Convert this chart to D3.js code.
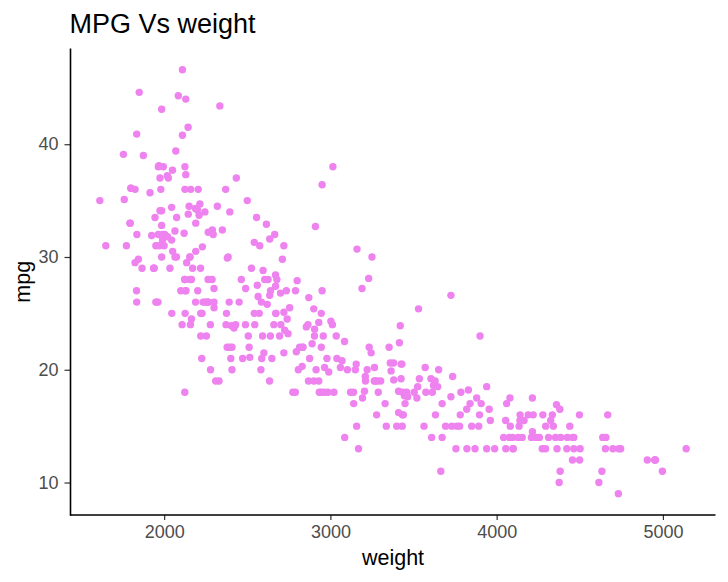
<!DOCTYPE html>
<html>
<head>
<meta charset="utf-8">
<script src="https://cdn.jsdelivr.net/npm/d3@7"></script>
<style>
  html, body { margin: 0; padding: 0; background: #ffffff; }
  svg { display: block; }
  text { font-family: "Liberation Sans", Arial, "DejaVu Sans", sans-serif; }
</style>
</head>
<body>
<div id="chart"></div>
<script>
// Auto MPG data: weight (lbs) and mpg, in dataset order
const weight = [
  3504,3693,3436,3433,3449,4341,4354,4312,4425,3850,3563,3609,3761,3086,2372,2833,2774,2587,2130,1835,2672,2430,2375,2234,2648,4615,4376,4382,4732,
  2130,2264,2228,2046,2634,3439,3329,3302,3288,4209,4464,4154,4096,4955,4746,5140,2962,2408,3282,3139,2220,2123,2074,2065,1773,1613,1834,1955,
  2278,2126,2254,2408,2226,4274,4385,4135,4129,3672,4633,4502,4456,4422,2330,3892,4098,4294,4077,2933,2511,2979,2189,2395,2288,2506,2164,2100,
  4100,3672,3988,4042,3777,4952,4464,4363,4237,4735,4951,3821,3121,3278,2945,3021,2904,1950,4997,4906,4654,4499,2789,2279,2401,2379,2124,2310,2472,2265,4082,4278,1867,2158,2582,2868,3399,2660,2807,3664,
  3102,2875,2901,3336,1950,2451,1836,2542,3781,3632,3613,4141,4699,4457,4638,4257,2219,1963,2300,1649,2003,2125,2108,2246,2489,2391,2000,
  3264,3459,3432,3158,4668,4440,4498,4657,3907,3897,3730,3785,3039,3221,3169,2171,2639,2914,2592,2702,2223,2545,2984,1937,3211,2694,2957,2945,2671,1795,
  2464,2220,2572,2255,2202,4215,4190,3962,4215,3233,3353,3012,3085,2035,2164,1937,1795,3651,3574,3645,3193,1825,1990,2155,2565,3150,3940,3270,2930,3820,4380,4055,3870,3755,
  2045,2155,1825,2300,1945,3880,4060,4140,4295,3520,3425,3630,3525,4220,4165,4325,4335,1940,2740,2265,2755,2051,2075,1985,2190,2815,2600,2720,
  1985,1800,1985,2070,1800,3365,3735,3570,3535,3155,2965,2720,3430,3210,3380,3070,3620,3410,3425,3445,3205,4080,2155,2560,2300,2230,2515,2745,2855,2405,2830,3140,2795,3410,1990,2135,
  3245,2990,2890,3265,3360,3840,3725,3955,3830,4360,4054,3605,3940,1925,1975,1915,2670,3530,3900,3190,3420,2200,2150,2020,2130,2670,2595,2700,2556,
  2144,1968,2120,2019,2678,2870,3003,3381,2188,2711,2542,2434,2265,2110,2800,2110,2085,2335,2950,3250,1850,1835,2145,1845,2910,2420,2500,2905,2290,
  2490,2635,2620,2725,2385,1755,1875,1760,2065,1975,2050,1985,2215,2045,2380,2190,2320,2210,2350,2615,2635,3230,3160,2900,2930,3415,3725,3060,3465,
  2605,2640,2395,2575,2525,2735,2865,3035,1980,2025,1970,2125,2125,2160,2205,2245,1965,1965,1995,2945,3015,2585,2835,2665,2370,2950,2790,2130,2295,2625,2720
];
const mpg = [
  18,15,18,16,17,15,14,14,14,15,15,14,15,14,24,22,18,21,27,26,25,24,25,26,21,10,10,11,9,
  27,28,25,25,19,16,17,19,18,14,14,14,14,12,13,13,18,22,19,18,23,28,30,30,31,35,27,26,
  24,25,23,20,21,13,14,15,14,17,11,13,12,13,19,15,13,13,14,18,22,21,26,22,28,23,28,27,
  13,14,13,14,15,12,13,13,14,13,12,13,18,16,18,18,23,26,11,12,13,12,18,20,21,22,18,19,21,26,15,16,29,24,20,19,15,24,20,11,
  20,21,19,15,31,26,32,25,16,16,18,16,13,14,14,14,29,26,26,31,32,28,24,26,24,26,31,
  19,18,15,15,16,15,16,14,17,16,15,18,21,20,13,29,23,20,23,24,25,24,18,29,19,23,23,22,25,33,
  28,25,25,26,27,17.5,16,15.5,14.5,22,22,24,22.5,29,24.5,29,33,20,18,18.5,17.5,29.5,32,28,26.5,20,13,19,19,16.5,16.5,13,13,13,
  31.5,30,36,25.5,33.5,17.5,17,15.5,15,17.5,20.5,19,18.5,16,15.5,15.5,16,29,24.5,26,25.5,30.5,33.5,30,30.5,22,21.5,21.5,
  43.1,36.1,32.8,39.4,36.1,19.9,19.4,20.2,19.2,20.5,20.2,25.1,20.5,19.4,20.6,20.8,18.6,18.1,19.2,17.7,18.1,17.5,30,27.5,27.2,30.9,21.1,23.2,23.8,23.9,20.3,17,21.6,16.2,31.5,29.5,
  21.5,19.8,22.3,20.2,20.6,17,17.6,16.5,18.2,16.9,15.5,19.2,18.5,31.9,34.1,35.7,27.4,25.4,23,27.2,23.9,34.2,34.5,31.8,37.3,28.4,28.8,26.8,33.5,
  41.5,38.1,32.1,37.2,28,26.4,24.3,19.1,34.3,29.8,31.3,37,32.2,46.6,27.9,40.8,44.3,43.4,36.4,30,44.6,40.9,33.8,29.8,32.7,23.7,35,23.6,32.4,
  27.2,26.6,25.8,23.5,30,39.1,39,35.1,32.3,37,37.7,34.1,34.7,34.4,29.9,33,34.5,33.7,32.4,32.9,31.6,28.1,30.7,25.4,24.2,22.4,26.6,20.2,17.6,
  28,27,34,31,29,27,24,23,36,37,31,38,36,36,36,34,38,32,38,25,38,26,22,32,36,27,27,44,32,28,31
];
const xTicks = [2000, 3000, 4000, 5000];
const yTicks = [10, 20, 30, 40];
const titleText = "MPG Vs weight";
const xLabel = "weight";
const yLabel = "mpg";

const W = 728, H = 582;
const panel = { left: 70.5, right: 715.5, top: 48.6, bottom: 515 };

const points = weight.map((w, i) => ({ w: w, m: mpg[i] }));

function expand(ext) {
  const pad = (ext[1] - ext[0]) * 0.05;
  return [ext[0] - pad, ext[1] + pad];
}

const x = d3.scaleLinear()
  .domain(expand(d3.extent(weight)))
  .range([panel.left, panel.right]);
const y = d3.scaleLinear()
  .domain(expand(d3.extent(mpg)))
  .range([panel.bottom, panel.top]);

const svg = d3.select("#chart").append("svg")
  .attr("width", W).attr("height", H)
  .attr("viewBox", `0 0 ${W} ${H}`);

svg.append("rect").attr("width", W).attr("height", H).attr("fill", "#ffffff");

// points
svg.append("g")
  .selectAll("circle")
  .data(points)
  .join("circle")
  .attr("cx", d => x(d.w))
  .attr("cy", d => y(d.m))
  .attr("r", 3.7)
  .attr("fill", "#EE82EE");

// x axis
const xAxis = d3.axisBottom(x).tickValues(xTicks).tickSize(5).tickPadding(5).tickFormat(d3.format("d"));
const gx = svg.append("g").attr("transform", `translate(0,${panel.bottom})`).call(xAxis);
gx.select(".domain").remove();
gx.append("line")
  .attr("x1", panel.left - 0.5).attr("x2", panel.right)
  .attr("y1", 0).attr("y2", 0)
  .attr("stroke", "#000").attr("stroke-width", 1.6);
gx.selectAll(".tick line").attr("stroke", "#333333").attr("stroke-width", 1.2);
gx.selectAll(".tick text")
  .attr("fill", "#4D4D4D")
  .style("font-size", "18px")
  .style("font-family", '"Liberation Sans", Arial, sans-serif');

// y axis
const yAxis = d3.axisLeft(y).tickValues(yTicks).tickSize(6).tickPadding(6);
const gy = svg.append("g").attr("transform", `translate(${panel.left},0)`).call(yAxis);
gy.select(".domain").remove();
gy.append("line")
  .attr("x1", 0).attr("x2", 0)
  .attr("y1", panel.top).attr("y2", panel.bottom + 0.8)
  .attr("stroke", "#000").attr("stroke-width", 1.6);
gy.selectAll(".tick line").attr("stroke", "#333333").attr("stroke-width", 1.2);
gy.selectAll(".tick text")
  .attr("fill", "#4D4D4D")
  .style("font-size", "18px")
  .style("font-family", '"Liberation Sans", Arial, sans-serif');

// axis titles
svg.append("text")
  .attr("x", (panel.left + panel.right) / 2)
  .attr("y", 565)
  .attr("text-anchor", "middle")
  .attr("fill", "#000")
  .style("font-size", "21.5px")
  .text(xLabel);

svg.append("text")
  .attr("transform", `translate(29.5,${(panel.top + panel.bottom) / 2}) rotate(-90)`)
  .attr("text-anchor", "middle")
  .attr("fill", "#000")
  .style("font-size", "21.5px")
  .text(yLabel);

// title
svg.append("text")
  .attr("x", 69.5)
  .attr("y", 33.3)
  .attr("fill", "#000")
  .style("font-size", "27px")
  .text(titleText);
</script>
</body>
</html>
